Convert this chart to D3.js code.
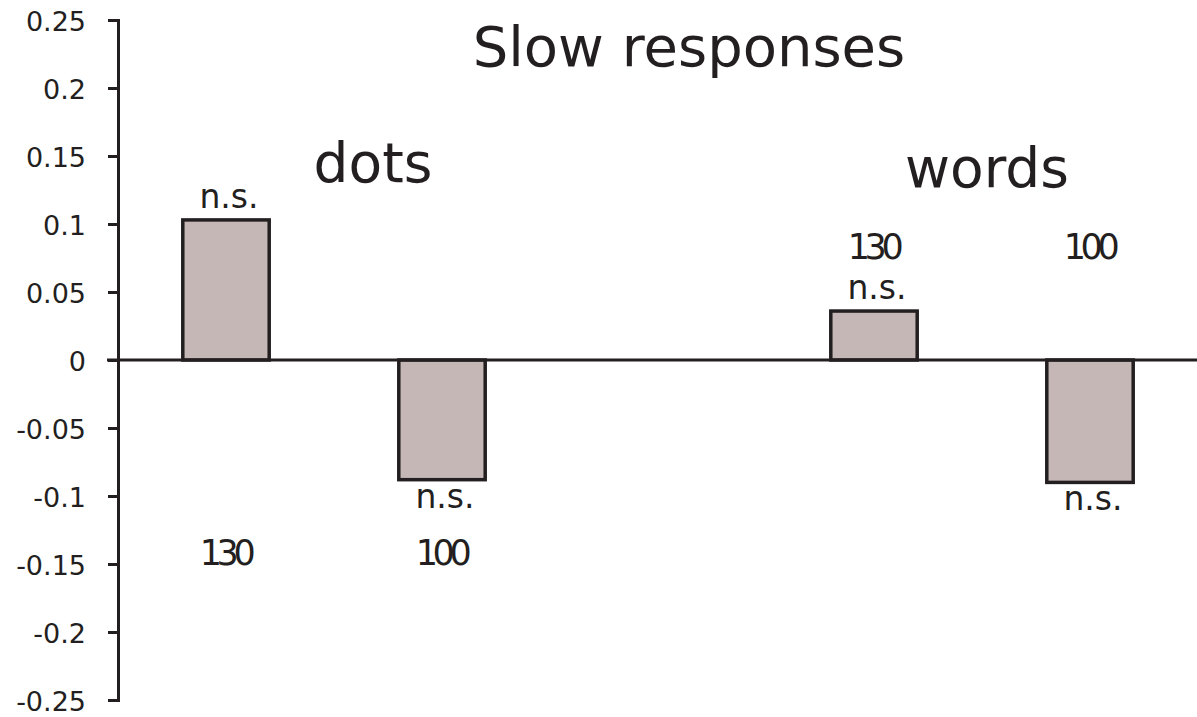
<!DOCTYPE html>
<html>
<head>
<meta charset="utf-8">
<script src="https://cdn.jsdelivr.net/npm/d3@7"></script>
<style>
  body { margin: 0; background: #fff; }
  text { font-family: "DejaVu Sans", sans-serif; fill: #231f20; }
</style>
</head>
<body>
<div class="chart"></div>
<script>
// data
const slots = ["dots-130", "dots-100", "", "words-130", "words-100"];
const tasks = ["dots", "dots", "words", "words"];
const conditions = ["130", "100", "130", "100"];
const bars = ["dots-130", "dots-100", "words-130", "words-100"];
const values = [0.103, -0.088, 0.036, -0.09];
const sigLabels = ["n.s.", "n.s.", "n.s.", "n.s."];
const yTicks = [0.25, 0.2, 0.15, 0.1, 0.05, 0, -0.05, -0.1, -0.15, -0.2, -0.25];

const width = 1197;
const height = 717;

const svg = d3
  .select(".chart")
  .append("svg")
  .attr("width", width)
  .attr("height", height);

const xScale = d3
  .scaleBand()
  .domain(slots)
  .range([118, 1198])
  .paddingInner(0.6)
  .paddingOuter(0.3);

const yScale = d3.scaleLinear().domain([-0.25, 0.25]).range([700, 20]);

// y axis
const yAxis = d3
  .axisLeft(yScale)
  .tickValues(yTicks)
  .tickSize(10)
  .tickPadding(22)
  .tickFormat((d) => (d === 0 ? "0" : String(d)));

const yAxisG = svg
  .append("g")
  .attr("transform", "translate(118,0)")
  .call(yAxis);
yAxisG.selectAll("path, line").attr("stroke", "#231f20").attr("stroke-width", 3);
yAxisG
  .selectAll("text")
  .attr("font-size", 27)
  .attr("font-family", "DejaVu Sans")
  .attr("fill", "#231f20")
  .attr("dy", "0.4em");

// bars
svg
  .append("g")
  .selectAll("rect")
  .data(bars)
  .join("rect")
  .attr("x", (d) => xScale(d))
  .attr("width", xScale.bandwidth())
  .attr("y", (d, i) => yScale(Math.max(0, values[i])))
  .attr("height", (d, i) => Math.abs(yScale(values[i]) - yScale(0)))
  .attr("fill", "#c6b7b7")
  .attr("stroke", "#231f20")
  .attr("stroke-width", 3.5);

// zero line
svg
  .append("line")
  .attr("x1", 107)
  .attr("x2", width)
  .attr("y1", yScale(0))
  .attr("y2", yScale(0))
  .attr("stroke", "#231f20")
  .attr("stroke-width", 3);

// n.s. labels
svg
  .append("g")
  .selectAll("text")
  .data(bars)
  .join("text")
  .attr("x", (d) => xScale(d) + xScale.bandwidth() / 2 + 3)
  .attr("y", (d, i) =>
    values[i] >= 0 ? yScale(values[i]) - 12 : yScale(values[i]) + 28
  )
  .attr("text-anchor", "middle")
  .attr("font-size", 33)
  .text((d, i) => sigLabels[i]);

// condition labels (130 / 100)
svg
  .append("g")
  .selectAll("text")
  .data(bars)
  .join("text")
  .attr("x", (d) => xScale(d) + xScale.bandwidth() / 2)
  .attr("y", (d, i) => (tasks[i] === "dots" ? yScale(-0.1509) : yScale(0.0743)))
  .attr("text-anchor", "middle")
  .attr("font-size", 35)
  .attr("letter-spacing", -5.5)
  .attr("dx", -1)
  .text((d, i) => conditions[i]);

// task labels
const taskNames = ["dots", "words"];
svg
  .append("g")
  .selectAll("text")
  .data(taskNames)
  .join("text")
  .attr("x", (d) => xScale(d + "-130") + xScale.bandwidth() / 2 + (d === "dots" ? 147 : 113))
  .attr("y", (d) => (d === "dots" ? 182 : 187))
  .attr("text-anchor", "middle")
  .attr("font-size", 55)
  .text((d) => d);

// title
svg
  .append("text")
  .attr("x", 689)
  .attr("y", 66)
  .attr("text-anchor", "middle")
  .attr("font-size", 56)
  .text("Slow responses");
</script>
</body>
</html>
